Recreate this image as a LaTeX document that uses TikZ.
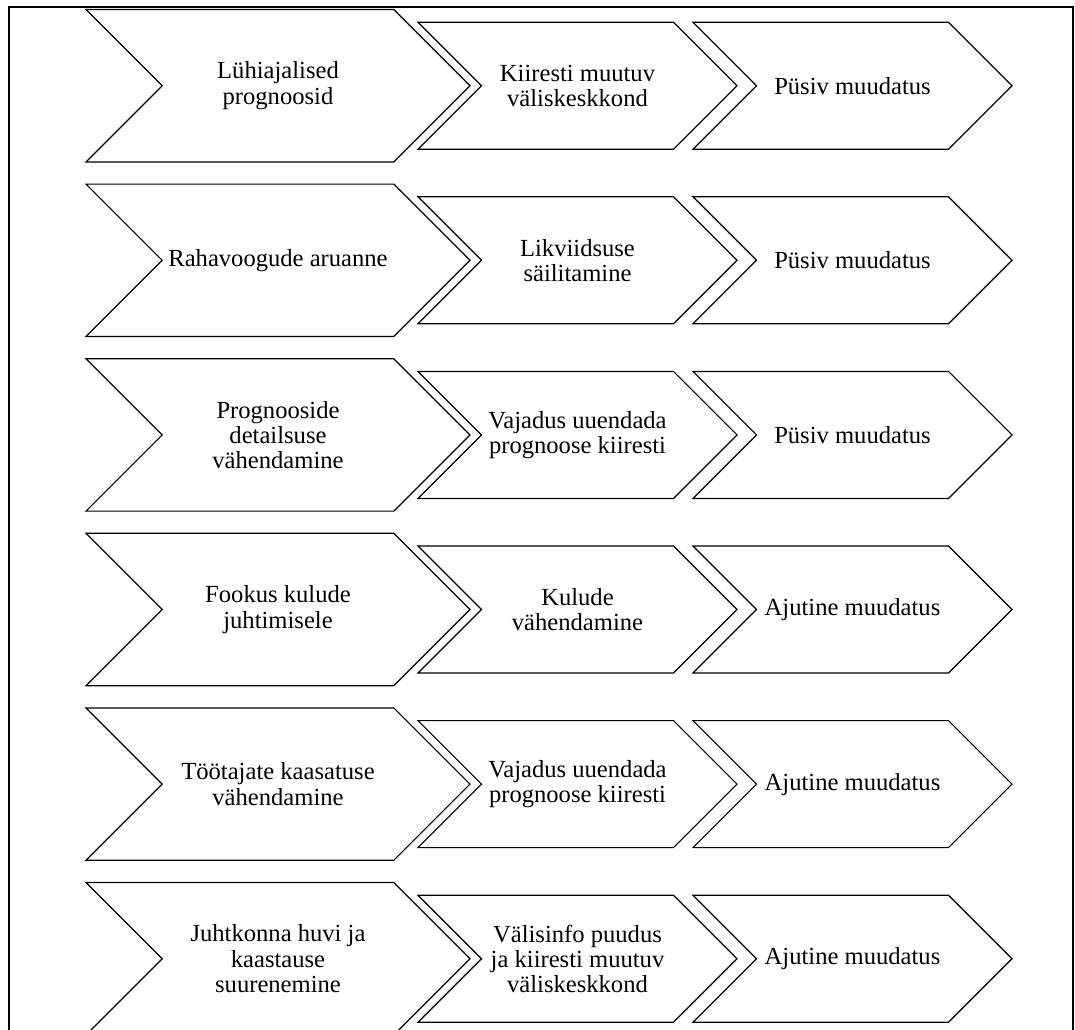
\documentclass[tikz,border=0pt]{standalone}
\usepackage{fontspec}
\setmainfont{Liberation Serif}
\tikzset{
  chevline/.style={draw=black, line width=0.9pt, line join=miter, fill=white},
  chevtext/.style={align=center, inner sep=0pt, font=\fontsize{18.45}{18.9}\selectfont},
  framebar/.style={draw=black, line width=1.5pt}
}
% #1 name, #2 left x, #3 top y, #4 length (left to tip), #5 height, #6 text
\newcommand\mychev[6]{%
  \draw[chevline] (#2,#3) -- ++({#4-#5/2},0) -- ++({#5/2},{#5/2}) -- ++({-#5/2},{#5/2})
    -- ++({-#4+#5/2},0) -- ++({#5/2},{-#5/2}) -- cycle;
  \node[chevtext] (#1) at ({#2+#4/2},{#3+#5/2}) {#6};
}
% #1 row id, #2 top y of the big chevron, #3 #4 #5 texts
\newcommand\myrow[5]{%
  \mychev{a#1}{86}{#2}{384}{152.4}{#3}
  \mychev{b#1}{418}{#2+12.7}{319}{127}{#4}
  \mychev{c#1}{693}{#2+12.7}{319}{127}{#5}
}
\begin{document}
\begin{tikzpicture}[x=0.75pt,y=-0.75pt]
\clip (0,0) rectangle (1075,1029);
\fill[white] (0,0) rectangle (1075,1029);
\draw[framebar] (9,1040) -- (9,7.3) -- (1073,7.3) -- (1073,1040);
\myrow{1}{9.5}{Lühiajalised\\prognoosid}{Kiiresti muutuv\\väliskeskkond}{Püsiv muudatus}
\myrow{2}{184.1}{Rahavoogude aruanne}{Likviidsuse\\säilitamine}{Püsiv muudatus}
\myrow{3}{358.7}{Prognooside\\detailsuse\\vähendamine}{Vajadus uuendada\\prognoose kiiresti}{Püsiv muudatus}
\myrow{4}{533.3}{Fookus kulude\\juhtimisele}{Kulude\\vähendamine}{Ajutine muudatus}
\myrow{5}{707.9}{Töötajate kaasatuse\\vähendamine}{Vajadus uuendada\\prognoose kiiresti}{Ajutine muudatus}
\myrow{6}{882.5}{Juhtkonna huvi ja\\kaastause\\suurenemine}{Välisinfo puudus\\ja kiiresti muutuv\\väliskeskkond}{Ajutine muudatus}
\end{tikzpicture}
\end{document}
